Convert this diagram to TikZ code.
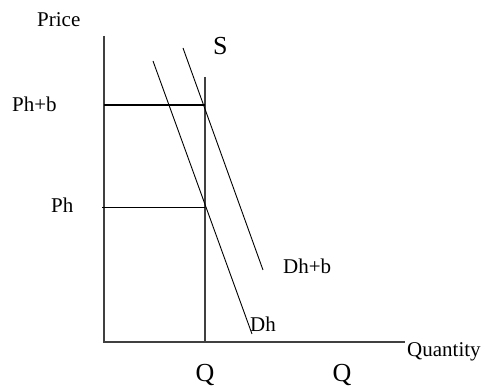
\documentclass[tikz,border=0pt]{standalone}
\usepackage{fontspec}
\setmainfont{Liberation Serif}
\begin{document}
\begin{tikzpicture}[x=1pt,y=-1pt,
  lbl/.style={inner sep=0pt,anchor=base west,font=\fontsize{21}{25}\selectfont},
  biglbl/.style={inner sep=0pt,anchor=base,font=\fontsize{26}{30}\selectfont},
  axis/.style={draw=black!75,line width=1.4pt},
  curve/.style={draw=black,line width=0.9pt}]
\useasboundingbox (0,0) rectangle (485,387);
% coordinates
\coordinate (ytop) at (104,36);
\coordinate (origin) at (104,342);
\coordinate (xend) at (405,342);
\coordinate (stop) at (205,77);
\coordinate (sbot) at (205,342);
\coordinate (phbL) at (104,105);
\coordinate (phbR) at (205,105);
\coordinate (phL) at (102,207);
\coordinate (phR) at (205,207);
\coordinate (dhbT) at (183,48);
\coordinate (dhbB) at (263,270);
\coordinate (dhT) at (153,61);
\coordinate (dhB) at (252,334);
% lines
\draw[axis] (ytop) -- (origin) -- (xend);
\draw[axis] (stop) -- (sbot);
\draw[draw=black,line width=1.8pt] (phbL) -- (phbR);
\draw[curve] (phL) -- (phR);
\draw[curve] (dhbT) -- (dhbB);
\draw[curve] (dhT) -- (dhB);
% labels
\node[lbl] (price) at (37,27) {Price};
\node[biglbl,anchor=base west] (s) at (213,55) {S};
\node[lbl] (phb) at (12,112) {Ph+b};
\node[lbl] (ph) at (51,213) {Ph};
\node[lbl] (dhb) at (283,274) {Dh+b};
\node[lbl] (dh) at (250,332) {Dh};
\node[lbl] (qty) at (407,357) {Quantity};
\node[biglbl] (q1) at (205,382) {Q};
\node[biglbl] (q2) at (342,382) {Q};
\end{tikzpicture}
\end{document}
